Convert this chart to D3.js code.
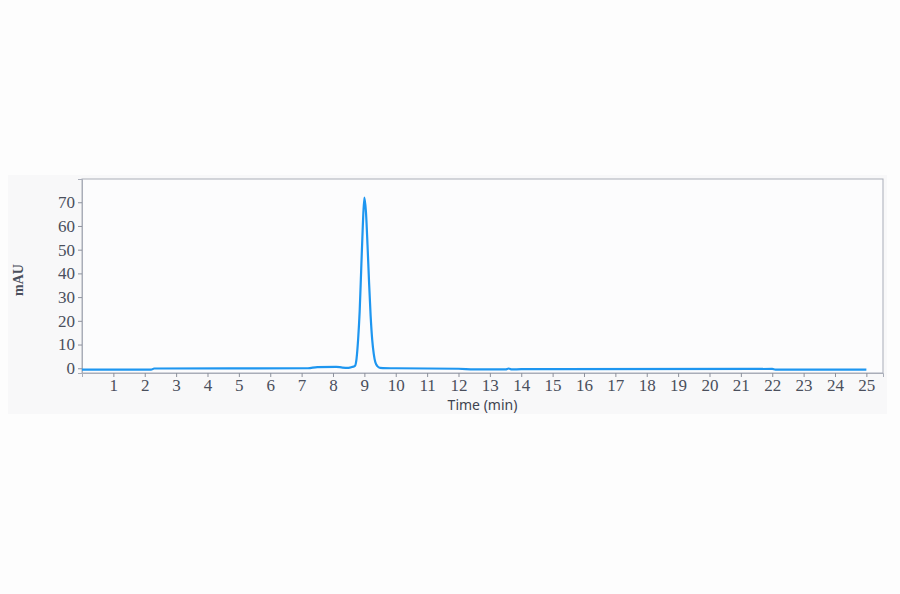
<!DOCTYPE html>
<html>
<head>
<meta charset="utf-8">
<script src="https://cdn.jsdelivr.net/npm/d3@7"></script>
<style>
  body { margin: 0; background: #fdfdfd; }
  svg { display: block; }
</style>
</head>
<body>
<div id="chart"></div>
<script>
// chromatogram trace
const times = [0, 2.2, 2.3, 7.2, 7.5, 8.1, 8.3, 8.5, 8.6, 8.7, 8.75, 8.8, 8.85, 8.9, 8.95, 9.0,
  9.05, 9.1, 9.15, 9.2, 9.25, 9.3, 9.35, 9.42, 9.5, 10, 12, 12.5, 13.5, 13.6, 13.7, 14, 22, 22.1, 25];
const mau = [-0.6, -0.6, -0.1, 0, 0.5, 0.6, 0.3, 0.2, 0.5, 1, 4, 12, 24, 42, 60, 72,
  66, 52, 36, 22, 12, 6, 2.5, 0.8, 0.2, 0, -0.2, -0.5, -0.5, -0.1, -0.5, -0.4, -0.3, -0.6, -0.6];
const xTicks = d3.range(1, 26);
const yTicks = [0, 10, 20, 30, 40, 50, 60, 70];

const W = 900, H = 594;
const margin = {left: 82, top: 179, right: 17, bottom: 221};

const svg = d3.select('#chart').append('svg')
  .attr('width', W)
  .attr('height', H);

// light panel behind the chart
svg.append('rect')
  .attr('x', 8).attr('y', 175)
  .attr('width', 879).attr('height', 239)
  .style('fill', '#f8f8f9');

const x = d3.scaleLinear().domain([0, 25.53]).range([margin.left, W - margin.right]);
const y = d3.scaleLinear().domain([-2, 79.8]).range([H - margin.bottom, margin.top]);

svg.append('rect')
  .attr('x', margin.left).attr('y', margin.top)
  .attr('width', W - margin.right - margin.left)
  .attr('height', H - margin.bottom - margin.top)
  .style('fill', '#fcfcfd')
  .style('stroke', '#a9adb8')
  .style('stroke-width', 1);

const xAxis = svg.append('g')
  .attr('transform', 'translate(0,' + (H - margin.bottom) + ')')
  .call(d3.axisBottom(x).tickValues(xTicks).tickSize(4).tickPadding(2).tickFormat(d3.format('d')));

const yAxis = svg.append('g')
  .attr('transform', 'translate(' + margin.left + ',0)')
  .call(d3.axisLeft(y).tickValues(yTicks).tickSize(4).tickPadding(3).tickFormat(d3.format('d')));

[xAxis, yAxis].forEach(function(g) {
  g.select('.domain').style('stroke', '#a9adb8');
  g.selectAll('.tick line').style('stroke', '#8d919c');
  g.selectAll('.tick text')
    .style('font-family', '"Liberation Serif", "DejaVu Serif", serif')
    .style('font-size', '17px')
    .style('fill', '#4a4f5c');
});

const line = d3.line()
  .x(function(d, i) { return x(times[i]); })
  .y(function(d) { return y(d); })
  .curve(d3.curveMonotoneX);

svg.append('path')
  .datum(mau)
  .attr('d', line)
  .style('fill', 'none')
  .style('stroke', '#1e96f0')
  .style('stroke-width', 2.2)
  .style('stroke-linejoin', 'round');

svg.append('text')
  .attr('x', (margin.left + W - margin.right) / 2)
  .attr('y', 410)
  .attr('text-anchor', 'middle')
  .style('font-family', '"Noto Sans", sans-serif')
  .style('font-size', '14px')
  .style('fill', '#3f4450')
  .text('Time (min)');

svg.append('text')
  .attr('transform', 'translate(23,' + 280 + ')rotate(-90)')
  .attr('text-anchor', 'middle')
  .style('font-family', '"Liberation Serif", "DejaVu Serif", serif')
  .style('font-size', '14px')
  .style('font-weight', 'bold')
  .style('fill', '#4a4f5c')
  .text('mAU');
</script>
</body>
</html>
